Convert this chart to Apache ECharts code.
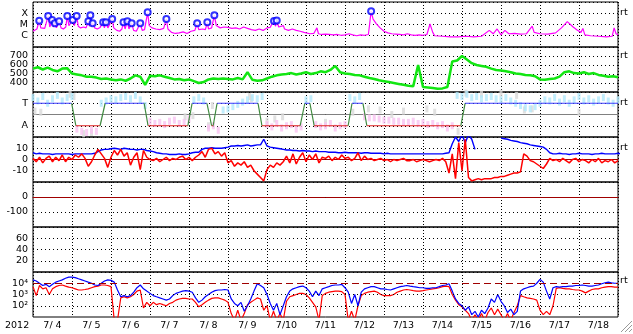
<!DOCTYPE html>
<html><head><meta charset="utf-8">
<script src="https://cdn.jsdelivr.net/npm/echarts@6/dist/echarts.min.js"></script>
<style>html,body{margin:0;padding:0;background:#fff;overflow:hidden}#c{width:633px;height:334px}</style>
</head><body><div id="c"></div>
<script>
// ---------- tick labels ----------
const dayLabels = ['7/ 4','7/ 5','7/ 6','7/ 7','7/ 8','7/ 9','7/10','7/11','7/12','7/13','7/14','7/15','7/16','7/17','7/18'];
const yearLabel = '2012';
const xrayClassLabels = {'-4':'X','-5':'M','-6':'C'};
const sectorLabels = {'1':'T','-1':'A'};
const electronLabels = {'4':'10\u2074','3':'10\u00b3','2':'10\u00b2'};
const sideLabel = 'rt';

// ---------- data (time in days since 7/4 00:00) ----------
const xrayFlux = [[0,2.5e-6],[0.05,3.2e-6],[0.1,4e-6],[0.16,2.2e-5],[0.2,5e-6],[0.25,3.5e-6],[0.3,4.5e-6],[0.35,6e-6],[0.39,5.8e-5],[0.43,6e-6],[0.46,8e-6],[0.49,2.5e-5],[0.52,6e-6],[0.56,1.3e-5],[0.6,5e-6],[0.64,7e-6],[0.67,1.9e-5],[0.72,5e-6],[0.78,4e-6],[0.84,6e-6],[0.88,5.8e-5],[0.92,8e-6],[0.96,6e-6],[1.02,2.5e-5],[1.06,8e-6],[1.12,5.8e-5],[1.16,7e-6],[1.22,5e-6],[1.3,6e-6],[1.36,5e-6],[1.42,1.9e-5],[1.45,7e-6],[1.47,6.6e-5],[1.5,7e-6],[1.53,1.3e-5],[1.58,5e-6],[1.65,4e-6],[1.72,5.5e-6],[1.8,1.6e-5],[1.83,5e-6],[1.87,1.6e-5],[1.92,5e-6],[1.97,4e-6],[2.03,3.1e-5],[2.07,5e-6],[2.15,3e-6],[2.22,2.5e-6],[2.28,4e-6],[2.32,1.6e-5],[2.36,4e-6],[2.42,1.9e-5],[2.46,4e-6],[2.53,1.3e-5],[2.58,3e-6],[2.65,2.5e-6],[2.7,3.5e-6],[2.75,1.3e-5],[2.8,3e-6],[2.86,3.5e-6],[2.94,1.2e-4],[2.98,8e-6],[3.05,5e-6],[3.15,4e-6],[3.25,3.5e-6],[3.35,4.5e-6],[3.42,3.1e-5],[3.46,4e-6],[3.55,2e-6],[3.65,1.6e-6],[3.75,1.8e-6],[3.85,2.2e-6],[3.95,1.6e-6],[4.05,2.5e-6],[4.15,3e-6],[4.21,1.3e-5],[4.25,3.5e-6],[4.35,4e-6],[4.42,3.5e-6],[4.47,1.6e-5],[4.5,4e-6],[4.58,5e-6],[4.65,6.6e-5],[4.7,8e-6],[4.8,5e-6],[4.9,6e-6],[5.0,5.5e-6],[5.1,4.5e-6],[5.2,5e-6],[5.3,4e-6],[5.4,6e-6],[5.5,4.5e-6],[5.6,3.5e-6],[5.7,3e-6],[5.8,4e-6],[5.9,3e-6],[6.0,5e-6],[6.08,5.5e-6],[6.12,1e-5],[6.18,2e-5],[6.22,7e-6],[6.25,2.3e-5],[6.3,6e-6],[6.35,5e-6],[6.42,8e-6],[6.45,4e-6],[6.55,3e-6],[6.65,4e-6],[6.75,3e-6],[6.85,2.5e-6],[6.95,2e-6],[7.0,1.7e-6],[7.1,1.5e-6],[7.2,1.6e-6],[7.28,5e-6],[7.32,1.5e-6],[7.4,1.3e-6],[7.5,1.4e-6],[7.6,1.3e-6],[7.7,1.2e-6],[7.8,1.3e-6],[7.9,1.1e-6],[8.0,1.2e-6],[8.1,1.5e-6],[8.2,1.2e-6],[8.3,1e-6],[8.4,1.2e-6],[8.5,1.1e-6],[8.6,1.3e-6],[8.67,1.5e-4],[8.72,3e-5],[8.8,1.2e-5],[8.9,5e-6],[9.0,2.5e-6],[9.1,1.8e-6],[9.2,1.5e-6],[9.3,1.4e-6],[9.4,1.3e-6],[9.5,1.2e-6],[9.6,1.5e-6],[9.7,1.2e-6],[9.8,1.1e-6],[9.9,1.2e-6],[10.0,1.1e-6],[10.1,1.3e-6],[10.18,1.1e-5],[10.25,2e-6],[10.3,1e-6],[10.5,9e-7],[10.7,8e-7],[10.9,8e-7],[11.1,9e-7],[11.3,8e-7],[11.5,9e-7],[11.7,3e-6],[11.8,1.5e-6],[11.9,4e-6],[12.0,1.2e-6],[12.1,3e-6],[12.2,1.5e-6],[12.35,1.6e-6],[12.5,1.4e-6],[12.65,1.5e-6],[12.8,7e-6],[12.85,2e-6],[13.0,1.5e-6],[13.2,1.4e-6],[13.4,1.8e-6],[13.55,5e-6],[13.7,1.8e-5],[13.85,6e-6],[13.95,3.2e-6],[14.05,2e-6],[14.1,4.5e-6],[14.15,1.2e-6],[14.3,1e-6],[14.5,9e-7],[14.7,8e-7],[14.85,9e-7],[14.9,5e-6],[14.95,1.5e-6],[15,1.2e-6]];
const flarePeaks = [[0.16,2.2e-5],[0.39,5.8e-5],[0.49,2.5e-5],[0.56,1.3e-5],[0.67,1.9e-5],[0.88,5.8e-5],[1.02,2.5e-5],[1.12,5.8e-5],[1.42,1.9e-5],[1.47,6.6e-5],[1.53,1.3e-5],[1.8,1.6e-5],[1.87,1.6e-5],[2.03,3.1e-5],[2.32,1.6e-5],[2.42,1.9e-5],[2.53,1.3e-5],[2.75,1.3e-5],[2.94,1.2e-4],[3.42,3.1e-5],[4.21,1.3e-5],[4.47,1.6e-5],[4.65,6.6e-5],[6.18,2e-5],[6.25,2.3e-5],[8.67,1.5e-4]];

// solar wind speed, one value every 3 hours
const speedStepDays = 0.125;
const windSpeed = [560,575,550,570,545,530,560,565,505,495,485,470,470,460,445,450,440,430,440,425,450,485,470,380,480,475,485,470,455,440,445,430,440,420,400,410,440,450,445,450,445,440,455,440,520,435,425,430,450,470,485,495,500,510,495,505,520,500,510,530,520,545,590,520,505,500,490,485,470,455,445,430,420,410,400,390,380,370,365,600,355,350,345,335,340,355,640,650,700,660,620,600,590,580,560,545,540,530,520,505,500,490,485,475,440,435,445,450,470,520,530,510,505,520,500,510,490,480,470,475,465];

// sector polarity (T = +1, A = -1)
const sectorTimes  = [0,0.99,1.10,1.72,1.85,2.85,2.95,3.97,4.08,4.46,4.58,4.62,4.72,5.77,5.87,6.85,6.97,7.10,7.21,8.08,8.18,8.46,8.56,10.97,11.08,15];
const sectorValues = [1,1,-1,-1,1,1,-1,-1,1,1,-1,-1,1,1,-1,-1,1,1,-1,-1,1,1,-1,-1,1,1];
// measured field angle, one value every 3 hours
const phiValues = [1.5,1.2,1.6,1.0,1.4,1.7,1.2,1.5,1.6,-1.3,-1.5,-1.6,-1.4,-1.5,1.0,1.2,1.4,1.3,1.5,1.6,1.4,1.7,1.3,0.8,-0.6,-0.8,-0.7,-0.9,-0.6,-0.5,-0.8,-0.7,-0.4,1.3,1.5,1.2,-1.2,-1.0,-1.4,0.4,0.5,0.7,0.9,1.1,1.3,1.5,1.4,1.6,-0.9,-1.1,-0.8,-1.2,-1.0,-0.9,-1.3,-1.1,1.3,1.4,-0.9,-1.1,-1.0,-0.8,-1.2,-1.0,-0.9,1.5,1.3,1.6,-0.2,-0.3,-0.3,-0.4,-0.5,-0.5,-0.6,-0.6,-0.7,-0.7,-0.6,-0.8,-0.7,-0.9,-0.8,-1.0,-0.9,-1.2,-1.0,1.7,1.6,1.8,1.5,1.6,1.4,1.5,1.6,1.4,1.3,1.5,1.2,1.0,0.8,0.6,0.5,0.7,1.0,1.3,1.2,1.5,1.1,1.4,1.0,1.3,1.6,1.2,1.4,1.1,1.3,1.5,1.2,1.0,1.3];
const phiGray = [[0.05,0.3],[0.2,0.2],[0.95,1.8],[1.05,1.6],[1.3,-1.7],[1.5,-1.6],[3.9,-0.2],[4.1,-0.1],[4.5,-1.0],[4.6,0.8],[5.55,1.6],[5.6,1.4],[6.0,-0.6],[6.2,-0.4],[6.4,-0.2],[7.5,-0.7],[8.2,0.2],[8.6,0.5],[8.9,0.4],[9.2,0.0],[9.5,0.3],[10.1,0.5],[10.3,0.2],[10.9,-1.5],[11.1,1.9],[11.5,1.8],[12.0,1.9],[12.4,1.7],[12.6,0.4],[12.8,0.5],[14.0,0.2]];

// IMF, one value every 2 hours
const fieldStepDays = 1/12;
const imfBt = [6,5,5.5,5,5,5,4.5,5,5,5,5,5,4.5,5,5,5,5,5,5,5.5,7,8.5,9,9,9.5,10,9.5,9,10,9.5,9,9,8.5,9,9,8,7.5,7,6,5.5,5,5,4.5,4.5,4.5,5,4.5,4.5,5,6,6.5,6.5,9,10,10,10.5,10,10,10,10.5,11,12,12,12.5,12,12.5,13,12,12.5,13,13,18,12,11,10.5,10,9.5,9,8.5,8.5,8,8,7.5,8,7.5,7.5,7,7.5,7,7,7,6.5,6.5,6.5,6,6,6.5,6,6,6,6,5.5,6,6,5.5,5.5,5.5,5.5,5,5.5,5,5,5,5,5,5,5,5,5,5,5,5,5,5,5,5,5,5.5,6,14,20,16,22,15,22,18,9,null,null,null,null,null,null,null,19,18.5,18,17,16.5,16,15,14.5,14,13,12.5,12,11.5,11,9,6,5,5,5.5,5,5,4.5,5,5,5.5,5,5,5,4.5,5,5,5.5,5,5,5,5,5.5,5];
const imfBz = [1,-2,2,-3,1,3,-2,2,-1,4,-2,2,0,4,2,5,1,-6,-2,4,9,5,1,-7,2,8,4,9,3,6,-5,2,6,-9,8,2,0,-1,1,-2,0,2,-1,1,0,2,3,0,2,-1,2,4,7,2,9,10,5,7,3,6,-3,-1,-6,-3,-5,-2,-7,-5,-10,-13,-16,-19,-9,-5,-7,-3,-5,-2,3,-3,5,-4,2,6,-2,4,0,5,-3,2,1,3,-1,2,0,4,1,2,-1,1,6,-1,3,0,1,-1,0,1,-1,0,-2,0,-1,0,1,-1,-1,0,-2,-1,0,-1,-2,-1,0,-1,1,-2,-12,5,-17,15,-10,18,-16,-19,-18,-17,-18,-17,-17,-17,-16,-16,-15,-15,-14,-13,-12,-12,-11,5,3,-1,-2,-4,-6,-8,-4,1,-1,0,-2,1,-1,-3,0,1,-2,0,-1,-3,0,-2,1,-3,-1,-2,0,-3,-1];

// electron flux, one value every 2 hours
const electronBlue = [20000,16000,10000,6300,8000,5000,8000,12600,16000,20000,28000,35000,35000,32000,25000,20000,16000,12600,10000,7000,6300,10000,16000,20000,18000,12600,2500,630,800,630,800,1600,4000,7000,3200,2000,1260,800,630,500,400,316,400,800,1260,1600,2000,2200,2000,1600,500,200,316,630,1000,1600,2200,2500,2500,2800,2500,400,160,100,200,32,100,400,2000,9000,6300,4000,1000,160,40,160,16,100,630,2000,3200,4000,5000,5600,4000,2000,630,2000,800,3200,4000,5000,6300,7000,7000,8000,4000,1600,160,1000,100,1600,3200,4000,5000,5000,4000,3200,3200,2800,2500,3200,4000,5000,5600,6300,5600,5000,4500,4000,4000,3500,3500,4000,4000,5000,6300,7000,9000,2000,400,160,100,40,80,16,32,10,40,20,63,400,200,1000,250,100,25,50,16,32,2000,3200,4000,5000,5600,10000,22000,12600,2000,400,4000,5000,4500,5000,5000,5600,5600,6300,6300,7000,6300,5600,5600,6300,7000,9000,11000,12600,11000,10000,10000];
const electronRed = [5000,800,6300,3200,4000,1000,3200,5000,6300,7000,5600,4500,4000,3200,2500,2500,2800,3200,4000,5000,5600,7000,7000,6300,5000,5,5,500,630,500,630,1000,2000,2500,63,200,100,200,125,160,125,100,160,200,316,400,450,450,400,400,200,80,125,200,316,450,500,500,400,316,200,20,5,40,5,20,125,200,316,500,400,40,100,5,32,5,20,5,250,630,800,1000,1260,1260,1000,500,200,80,5,800,1260,1600,1800,2000,2000,1800,1000,5,32,5,100,800,1260,1600,1800,2000,1600,1000,800,800,800,1000,1600,2000,2500,2800,2500,2200,2000,2000,2200,2500,2800,3200,3500,4000,5000,5600,5000,1000,316,125,80,40,20,5,16,5,20,5,25,63,16,50,16,5,20,5,25,100,800,630,500,450,400,316,40,16,32,16,100,3500,4000,3500,3200,3200,2800,2500,2500,2000,1400,2000,2800,3200,3200,4000,4500,5000,5000,4500,4500];

// ---------- chart ----------
const FONT = 'DejaVu Sans';
const FS = 9.5;
const PANEL_TOP = 2, PANEL_H = 45, PLOT_LEFT = 33, PLOT_W = 585;
const stepPairs = (vals, step) => vals.map((v, i) => [i * step, v]);

const grids = [], xAxes = [], yAxes = [], series = [];
for (let i = 0; i < 7; i++) {
  grids.push({left: PLOT_LEFT, width: PLOT_W, top: PANEL_TOP + PANEL_H * i, height: PANEL_H,
    show: true, borderColor: '#000', borderWidth: 1, backgroundColor: 'transparent'});
}
const zeroColors = {2: '#808080', 3: '#a00000', 4: '#a00000'};
for (let i = 0; i < 7; i++) {
  const zc = zeroColors[i];
  xAxes.push({type: 'value', gridIndex: i, min: 0, max: 15, interval: 1,
    axisLine: {show: !!zc, onZero: true, lineStyle: {color: zc || '#000', width: 1}},
    axisTick: {show: false}, axisLabel: {show: false},
    splitLine: {show: true, lineStyle: {color: '#000', width: 1, type: [1, 2]}}});
}
xAxes.push({type: 'category', gridIndex: 6, data: dayLabels, position: 'bottom', boundaryGap: true,
  axisLine: {show: false}, axisTick: {show: false}, splitLine: {show: false},
  axisLabel: {color: '#000', fontSize: FS, fontFamily: FONT, margin: 4, interval: 0}});

const lbl = (fmt) => ({color: '#000', fontSize: FS, fontFamily: FONT, margin: 5, showMinLabel: false, showMaxLabel: false, formatter: fmt});
const hDot = {show: true, lineStyle: {color: '#000', width: 1, type: [1, 3]}};
const noLine = {show: false};
yAxes.push({type: 'log', logBase: 10, gridIndex: 0, min: 1e-7, max: 1e-3, axisLine: noLine, axisTick: noLine,
  axisLabel: lbl(v => xrayClassLabels[String(Math.round(Math.log10(v)))] || ''), splitLine: hDot});
yAxes.push({type: 'value', gridIndex: 1, min: 300, max: 800, interval: 100, axisLine: noLine, axisTick: noLine,
  axisLabel: lbl(v => (v >= 400 && v <= 700) ? String(v) : ''), splitLine: hDot});
yAxes.push({type: 'value', gridIndex: 2, min: -2, max: 2, interval: 1, axisLine: noLine, axisTick: noLine,
  axisLabel: lbl(v => sectorLabels[String(v)] || ''), splitLine: hDot});
yAxes.push({type: 'value', gridIndex: 3, min: -20, max: 20, interval: 10, axisLine: noLine, axisTick: noLine,
  axisLabel: lbl(v => String(v)), splitLine: hDot});
yAxes.push({type: 'value', gridIndex: 4, min: -200, max: 100, interval: 100, axisLine: noLine, axisTick: noLine,
  axisLabel: lbl(v => (v === 0 || v === -100) ? String(v) : ''), splitLine: hDot});
yAxes.push({type: 'value', gridIndex: 5, min: 0, max: 80, interval: 20, axisLine: noLine, axisTick: noLine,
  axisLabel: lbl(v => String(v)), splitLine: hDot});
yAxes.push({type: 'log', logBase: 10, gridIndex: 6, min: 10, max: 1e5, axisLine: noLine, axisTick: noLine,
  axisLabel: lbl(v => electronLabels[String(Math.round(Math.log10(v)))] || ''), splitLine: {show: false}});

const line = (p, data, color, width, extra) => Object.assign({type: 'line', xAxisIndex: p, yAxisIndex: p, data,
  showSymbol: false, symbol: 'none', silent: true, animation: false, connectNulls: false,
  lineStyle: {color, width: width || 1}, itemStyle: {color}}, extra || {});

// panel 1: X-ray
series.push(line(0, xrayFlux, '#ff00ff', 1.2));
series.push({type: 'scatter', xAxisIndex: 0, yAxisIndex: 0, data: flarePeaks, symbol: 'emptyCircle', symbolSize: 6,
  itemStyle: {color: '#0000ff', borderWidth: 1}, silent: true, animation: false, z: 4});
// panel 2: speed
series.push(line(1, stepPairs(windSpeed, speedStepDays), '#12e612', 2.5));
// panel 3: angle dots + sector
const phiPairs = stepPairs(phiValues, speedStepDays);
const dot = (data, color) => ({type: 'scatter', xAxisIndex: 2, yAxisIndex: 2, data, symbol: 'rect', symbolSize: [3, 7],
  itemStyle: {color}, silent: true, animation: false, z: 1});
series.push(dot(phiGray, '#dadada'));
series.push(dot(phiPairs.filter(p => p[1] > 0), '#b2e8fb'));
series.push(dot(phiPairs.filter(p => p[1] < 0), '#f9c2f1'));
for (let k = 0; k < sectorTimes.length - 1; k++) {
  const a = sectorValues[k], b = sectorValues[k + 1];
  const col = a !== b ? '#3f8a3f' : (a > 0 ? '#3c3cff' : '#e02020');
  series.push(line(2, [[sectorTimes[k], a], [sectorTimes[k + 1], b]], col, 1.2, {z: 3}));
}
// panel 4: IMF
series.push(line(3, stepPairs(imfBt, fieldStepDays), '#0000ff', 1.4));
series.push(line(3, stepPairs(imfBz, fieldStepDays), '#ff0000', 1.5));
// panel 7: electrons
series.push(line(6, stepPairs(electronRed, fieldStepDays), '#ff0000', 1.2, {
  markLine: {silent: true, symbol: 'none', animation: false, label: {show: false},
    data: [
      {yAxis: 1e4, lineStyle: {color: '#a00000', type: [7, 4], width: 1.2}},
      {yAxis: 1e3, lineStyle: {color: '#000', type: [1, 3], width: 1}},
      {yAxis: 1e2, lineStyle: {color: '#000', type: [1, 3], width: 1}}
    ]}}));
series.push(line(6, stepPairs(electronBlue, fieldStepDays), '#0000ff', 1.2, {z: 3}));

const txt = (x, y, text, align) => ({type: 'text', x, y, silent: true,
  style: {text, fill: '#000', font: FS + 'px "' + FONT + '"', textAlign: align || 'left', align: align || 'left',
    textVerticalAlign: 'middle', verticalAlign: 'middle'}});
const graphics = [txt(5, 326, yearLabel)];
[12.5, 56, 103, 148, 281].forEach(y => graphics.push(txt(620, y, sideLabel)));
[[632,321,621,332],[632,325,625,332],[632,329,629,332]].forEach(s => graphics.push({type: 'line', silent: true,
  shape: {x1: s[0], y1: s[1], x2: s[2], y2: s[3]}, style: {stroke: '#999', lineWidth: 1}}));

const chart = echarts.init(document.getElementById('c'), null, {renderer: 'canvas'});
chart.setOption({animation: false, backgroundColor: '#fff', grid: grids, xAxis: xAxes, yAxis: yAxes, series, graphic: graphics});
</script></body></html>
